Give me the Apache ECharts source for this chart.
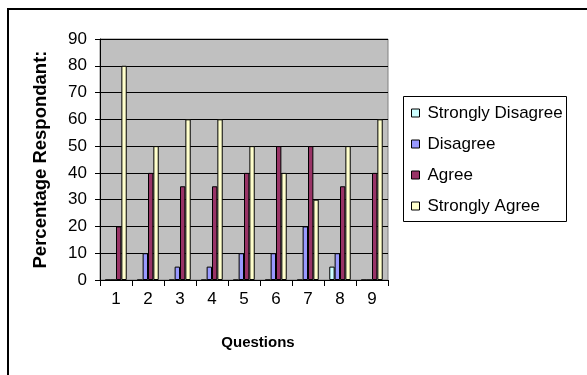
<!DOCTYPE html>
<html>
<head>
<meta charset="utf-8">
<script src="https://cdn.jsdelivr.net/npm/echarts@6/dist/echarts.min.js"></script>
<style>
  html, body { margin: 0; padding: 0; background: #fff; }
  #chart { width: 587px; height: 375px; }
</style>
</head>
<body>
<div id="chart"></div>
<script>
// Survey responses per question (percentage of respondents)
const questions = ['1', '2', '3', '4', '5', '6', '7', '8', '9'];
const stronglyDisagree = [0, 0, 0, 0, 0, 0, 0, 5, 0];
const disagree = [0, 10, 5, 5, 10, 10, 20, 10, 0];
const agree = [20, 40, 35, 35, 40, 50, 50, 35, 40];
const stronglyAgree = [80, 50, 60, 60, 50, 40, 30, 50, 60];

const seriesNames = ['Strongly Disagree', 'Disagree', 'Agree', 'Strongly Agree'];
const seriesColors = ['#CCFFFF', '#9999FF', '#993366', '#FFFFCC'];
const seriesData = [stronglyDisagree, disagree, agree, stronglyAgree];

const font = 'Arial, "Liberation Sans", sans-serif';

const chart = echarts.init(document.getElementById('chart'), null, { renderer: 'canvas' });

chart.setOption({
  animation: false,
  backgroundColor: '#ffffff',
  textStyle: { fontFamily: font, color: '#000' },
  grid: {
    left: 100, top: 39, width: 288, height: 241,
    show: true,
    backgroundColor: '#C0C0C0',
    borderColor: '#808080',
    borderWidth: 1
  },
  legend: {
    orient: 'vertical',
    left: 411, top: 104,
    padding: 0,
    itemWidth: 8, itemHeight: 8,
    itemGap: 13,
    icon: 'rect',
    itemStyle: { borderColor: '#000', borderWidth: 1 },
    textStyle: { fontFamily: font, fontSize: 17, color: '#000', lineHeight: 18, padding: [0, 0, 0, 3] },
    data: seriesNames
  },
  xAxis: {
    type: 'category',
    data: questions,
    name: 'Questions',
    nameLocation: 'middle',
    nameGap: 55,
    nameTextStyle: { fontFamily: font, fontSize: 15, fontWeight: 'bold', color: '#000', padding: [0, 0, 0, 28] },
    axisLine: { lineStyle: { color: '#000', width: 1 } },
    axisTick: { show: true, alignWithLabel: false, length: 6, lineStyle: { color: '#000' } },
    axisLabel: { fontFamily: font, fontSize: 17, color: '#000', margin: 11 },
    splitLine: { show: false }
  },
  yAxis: {
    type: 'value',
    min: 0, max: 90, interval: 10,
    name: 'Percentage Respondant:',
    nameLocation: 'middle',
    nameGap: 50,
    nameTextStyle: { fontFamily: font, fontSize: 18.5, fontWeight: 'bold', color: '#000' },
    axisLine: { show: true, lineStyle: { color: '#000', width: 1 } },
    axisTick: { show: true, length: 5, lineStyle: { color: '#000' } },
    axisLabel: { fontFamily: font, fontSize: 17, color: '#000', margin: 13 },
    splitLine: { show: true, lineStyle: { color: '#000', width: 1 } }
  },
  series: seriesNames.map((name, i) => ({
    name: name,
    type: 'bar',
    data: seriesData[i],
    barGap: '0%',
    barCategoryGap: '33%',
    itemStyle: { color: seriesColors[i], borderColor: '#000', borderWidth: 1 }
  })),
  graphic: [
    {
      type: 'rect',
      shape: { x: 8, y: 9, width: 600, height: 400 },
      style: { fill: null, stroke: '#000', lineWidth: 2 },
      silent: true, z: -1
    },
    {
      type: 'rect',
      shape: { x: 403.5, y: 96.5, width: 163, height: 125 },
      style: { fill: '#fff', stroke: '#000', lineWidth: 1 },
      silent: true, z: -1
    }
  ]
});
</script>
</body>
</html>
